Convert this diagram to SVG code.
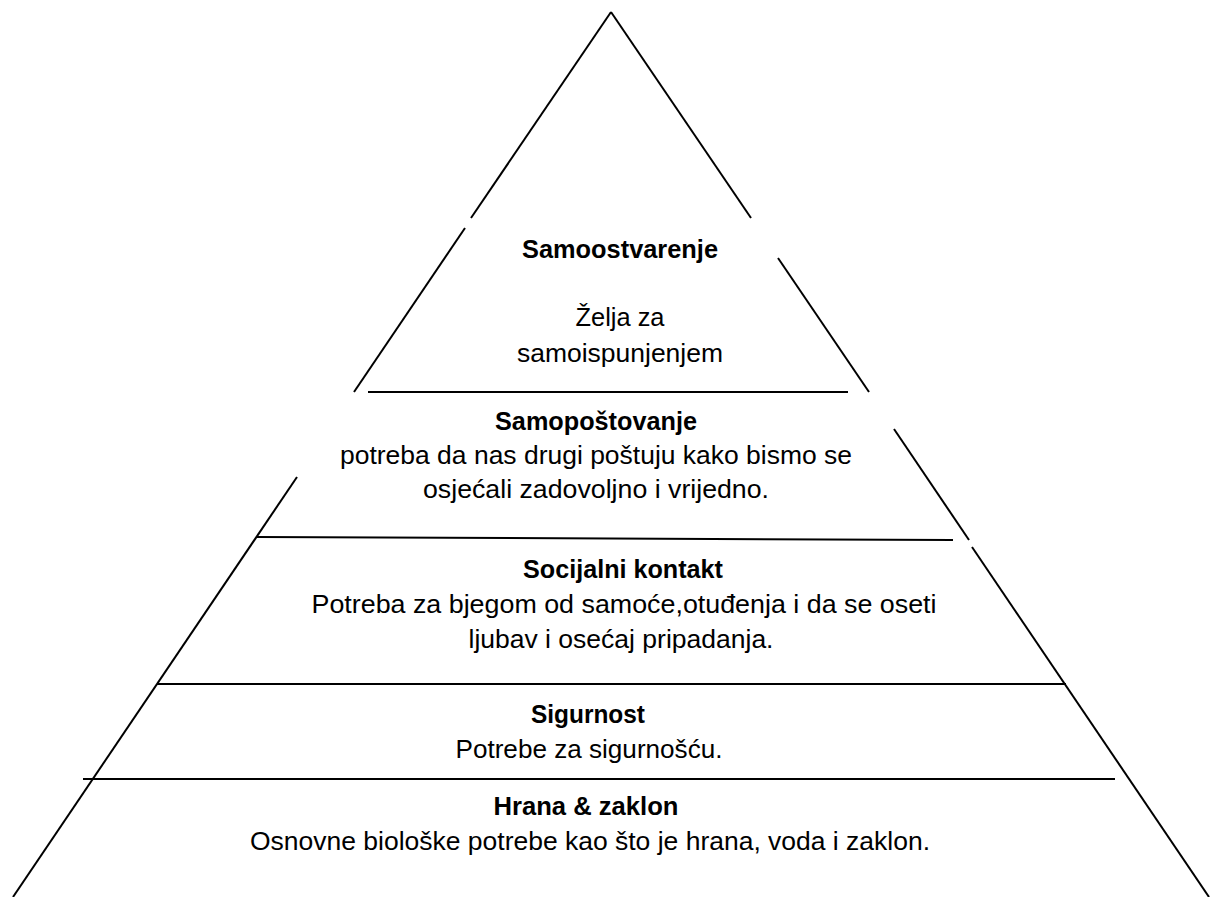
<svg xmlns="http://www.w3.org/2000/svg" width="1212" height="897" viewBox="0 0 1212 897">
<style>
  .ln{stroke:#000;stroke-width:2;fill:none;stroke-linecap:butt}
  .hl{stroke:#000;stroke-width:2;fill:none}
  text{font-family:"Liberation Sans",Arial,sans-serif;font-size:26px;fill:#000;text-anchor:middle}
  .b{font-weight:bold}
</style>
<rect width="1212" height="897" fill="#fff"/>
<g id="connectors">
  <line class="ln" x1="611" y1="12" x2="471" y2="218"/>
  <line class="ln" x1="611" y1="12" x2="751" y2="218"/>
  <line class="ln" x1="465" y1="228" x2="354" y2="392"/>
  <line class="ln" x1="778" y1="258" x2="869" y2="392"/>
  <line class="ln" x1="297" y1="477" x2="13" y2="897"/>
  <line class="ln" x1="894" y1="429" x2="969" y2="540"/>
  <line class="ln" x1="972" y1="547" x2="1209" y2="897"/>
  <line class="hl" x1="368" y1="392" x2="848" y2="392"/>
  <line class="hl" x1="256" y1="537" x2="953" y2="540"/>
  <line class="hl" x1="157" y1="684" x2="1066" y2="684"/>
  <line class="hl" x1="83" y1="779" x2="1115" y2="779"/>
</g>
<g id="samoostvarenje">
  <text class="b" x="620" y="258" textLength="196" lengthAdjust="spacingAndGlyphs">Samoostvarenje</text>
  <text x="620" y="326" textLength="89" lengthAdjust="spacingAndGlyphs">Želja za</text>
  <text x="620" y="362" textLength="206" lengthAdjust="spacingAndGlyphs">samoispunjenjem</text>
</g>
<g id="samopostovanje">
  <text class="b" x="596" y="430" textLength="202" lengthAdjust="spacingAndGlyphs">Samopoštovanje</text>
  <text x="596" y="464" textLength="512" lengthAdjust="spacingAndGlyphs">potreba da nas drugi poštuju kako bismo se</text>
  <text x="596" y="498" textLength="346" lengthAdjust="spacingAndGlyphs">osjećali zadovoljno i vrijedno.</text>
</g>
<g id="socijalni">
  <text class="b" x="623" y="578" textLength="200" lengthAdjust="spacingAndGlyphs">Socijalni kontakt</text>
  <text x="624" y="613" textLength="625" lengthAdjust="spacingAndGlyphs">Potreba za bjegom od samoće,otuđenja i da se oseti</text>
  <text x="621" y="648" textLength="305" lengthAdjust="spacingAndGlyphs">ljubav i osećaj pripadanja.</text>
</g>
<g id="sigurnost">
  <text class="b" x="588" y="723" textLength="114" lengthAdjust="spacingAndGlyphs">Sigurnost</text>
  <text x="589" y="758" textLength="267" lengthAdjust="spacingAndGlyphs">Potrebe za sigurnošću.</text>
</g>
<g id="hrana">
  <text class="b" x="586" y="815" textLength="185" lengthAdjust="spacingAndGlyphs">Hrana &amp; zaklon</text>
  <text x="590" y="850" textLength="680" lengthAdjust="spacingAndGlyphs">Osnovne biološke potrebe kao što je hrana, voda i zaklon.</text>
</g>
</svg>
